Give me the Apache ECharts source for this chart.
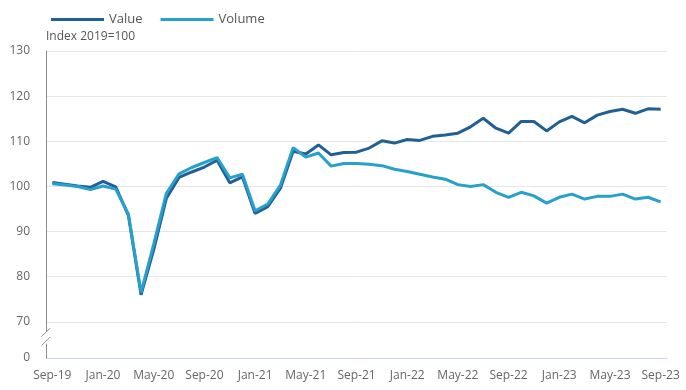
<!DOCTYPE html>
<html>
<head>
<meta charset="utf-8">
<script src="https://cdn.jsdelivr.net/npm/echarts@6/dist/echarts.min.js"></script>
<style>
html,body{margin:0;padding:0;background:#fff;}
#chart{width:686px;height:390px;}
</style>
</head>
<body>
<div id="chart"></div>
<script>
var months = ['Sep-19','Oct-19','Nov-19','Dec-19','Jan-20','Feb-20','Mar-20','Apr-20','May-20','Jun-20','Jul-20','Aug-20',
  'Sep-20','Oct-20','Nov-20','Dec-20','Jan-21','Feb-21','Mar-21','Apr-21','May-21','Jun-21','Jul-21','Aug-21',
  'Sep-21','Oct-21','Nov-21','Dec-21','Jan-22','Feb-22','Mar-22','Apr-22','May-22','Jun-22','Jul-22','Aug-22',
  'Sep-22','Oct-22','Nov-22','Dec-22','Jan-23','Feb-23','Mar-23','Apr-23','May-23','Jun-23','Jul-23','Aug-23','Sep-23'];
var valueSeries = [100.9,100.5,100.1,99.8,101.1,99.9,93.6,76.0,86.0,97.4,102.0,103.2,
  104.3,105.8,100.8,102.1,94.0,95.5,99.6,107.8,107.2,109.2,107.0,107.5,
  107.6,108.5,110.1,109.6,110.4,110.2,111.1,111.4,111.8,113.2,115.1,112.9,
  111.8,114.4,114.4,112.3,114.3,115.5,114.1,115.8,116.6,117.1,116.2,117.2,117.1];
var volumeSeries = [100.6,100.3,100.0,99.3,100.1,99.4,93.9,76.5,87.2,98.5,102.8,104.2,
  105.3,106.4,101.9,102.7,94.6,96.1,100.3,108.6,106.5,107.4,104.5,105.1,
  105.1,104.9,104.6,103.8,103.3,102.7,102.1,101.6,100.4,100.0,100.4,98.7,
  97.6,98.7,97.9,96.3,97.6,98.3,97.2,97.8,97.8,98.3,97.2,97.6,96.6];
var yTickValues = [62,70,80,90,100,110,120,130];
var yTickLabels = ['0','70','80','90','100','110','120','130'];
var yAxisName = 'Index 2019=100';

var chart = echarts.init(document.getElementById('chart'), null, {renderer:'canvas'});
var font = '"Open Sans", "Noto Sans", sans-serif';
chart.setOption({
  animation:false,
  textStyle:{fontFamily:font},
  legend:{
    left:46, top:8,
    itemWidth:53, itemHeight:3, itemGap:18,
    icon:'rect',
    textStyle:{fontSize:13,color:'#555',fontFamily:font},
    data:['Value','Volume']
  },
  grid:{left:46,right:19,top:51,bottom:32,containLabel:false},
  xAxis:{
    type:'category',
    data:months,
    boundaryGap:true,
    axisLine:{lineStyle:{color:'#ccd6eb',width:1}},
    axisTick:{alignWithLabel:true,interval:3,length:8,lineStyle:{color:'#ccd6eb'}},
    axisLabel:{interval:3,color:'#666',fontSize:12,margin:12,fontFamily:font},
    splitLine:{show:false}
  },
  yAxis:{
    type:'value',
    min:62, max:130,
    name:yAxisName,
    nameLocation:'end',
    nameGap:8,
    nameTextStyle:{align:'left',color:'#555',fontSize:12,fontFamily:font,padding:[0,0,0,0]},
    axisLine:{show:true,lineStyle:{color:'#8c8c8c',width:1}},
    axisTick:{show:false,customValues:yTickValues},
    axisLabel:{
      customValues:yTickValues,
      color:'#666',fontSize:12,margin:16,fontFamily:font,
      formatter:function(v){var i=yTickValues.indexOf(v);return i>=0?yTickLabels[i]:'';}
    },
    splitLine:{show:true,lineStyle:{color:'#e6e6e6',width:1}}
  },
  series:[
    {name:'Value',type:'line',data:valueSeries,symbol:'none',
     lineStyle:{color:'#206095',width:3},itemStyle:{color:'#206095'}},
    {name:'Volume',type:'line',data:volumeSeries,symbol:'none',
     lineStyle:{color:'#27a0cc',width:3},itemStyle:{color:'#27a0cc'}}
  ]
});

// axis break decoration on the y axis
var ax = chart.convertToPixel({gridIndex:0},[0,66.5]);
var x0 = chart.getModel().getComponent('grid',0).coordinateSystem.getRect().x;
var yc = ax[1];
chart.setOption({
  graphic:[
    {type:'rect',shape:{x:x0-3,y:yc-6,width:6,height:12},style:{fill:'#fff'},z:100},
    {type:'line',shape:{x1:x0-4.5,y1:yc-1,x2:x0+4,y2:yc-9.5},style:{stroke:'#8c8c8c',lineWidth:1},z:101},
    {type:'line',shape:{x1:x0-4.5,y1:yc+8,x2:x0+4,y2:yc-0.5},style:{stroke:'#8c8c8c',lineWidth:1},z:101}
  ]
});
</script>
</body>
</html>
